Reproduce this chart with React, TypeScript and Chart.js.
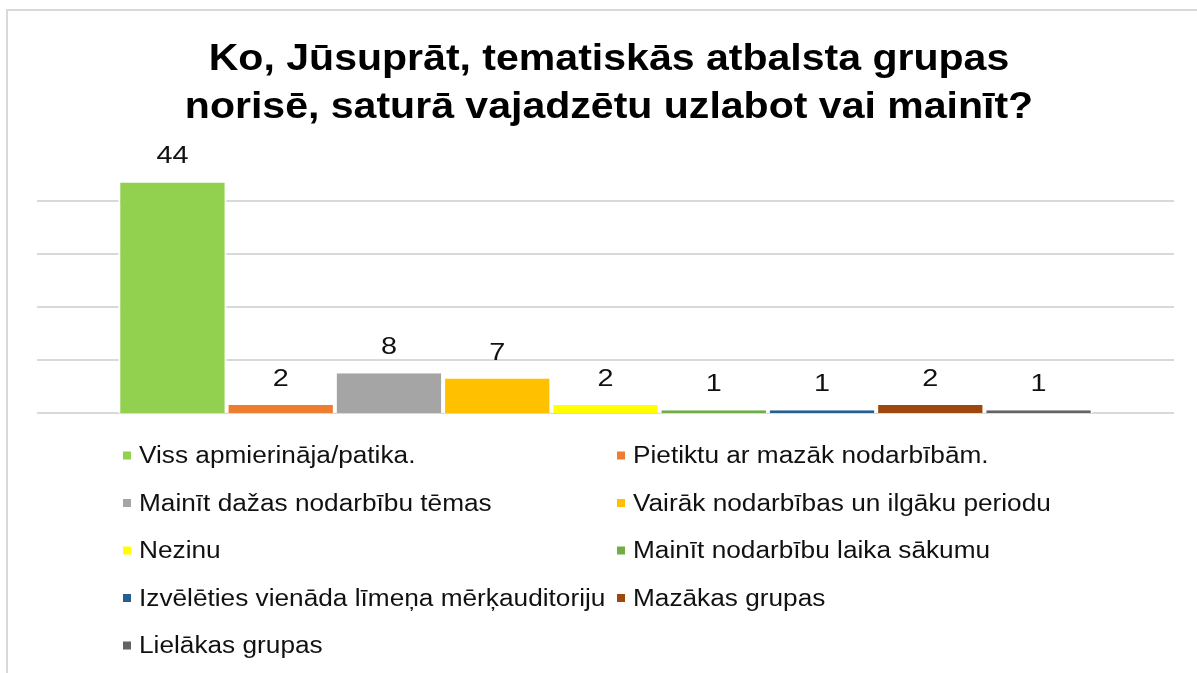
import React, { useEffect, useRef } from "react";
import { Chart, registerables } from "chart.js";

Chart.register(...registerables);

const TITLE_LINES = [
  "Ko, Jūsuprāt, tematiskās atbalsta grupas",
  "norisē, saturā vajadzētu uzlabot vai mainīt?",
];
const CATEGORIES = [
  "Viss apmierināja/patika.",
  "Pietiktu ar mazāk nodarbībām.",
  "Mainīt dažas nodarbību tēmas",
  "Vairāk nodarbības un ilgāku periodu",
  "Nezinu",
  "Mainīt nodarbību laika sākumu",
  "Izvēlēties vienāda līmeņa mērķauditoriju",
  "Mazākas grupas",
  "Lielākas grupas",
];
const VALUES = [44, 2, 8, 7, 2, 1, 1, 2, 1];
const COLORS = [
  "#92d050",
  "#ed7d31",
  "#a5a5a5",
  "#ffc000",
  "#ffff00",
  "#70ad47",
  "#255e91",
  "#9e480e",
  "#636363",
];
const GRID_VALUES = [0.5, 10.5, 20.5, 30.5, 40.5];
const Y_MIN = 0.5;
const Y_MAX = 50.5;

const FONT = '"Liberation Sans", Arial, sans-serif';

function stretchedText(ctx: CanvasRenderingContext2D, text: string, x: number, y: number, sx: number, align: CanvasTextAlign) {
  ctx.save();
  ctx.translate(x, y);
  ctx.scale(sx, 1);
  ctx.textAlign = align;
  ctx.textBaseline = "alphabetic";
  ctx.fillText(text, 0, 0);
  ctx.restore();
}

const overlayPlugin = {
  id: "overlay",
  afterDraw(chart: any) {
    const ctx: CanvasRenderingContext2D = chart.ctx;
    ctx.save();
    // title
    ctx.fillStyle = "#000000";
    ctx.font = `bold 36px ${FONT}`;
    const titleBase = [70, 118];
    TITLE_LINES.forEach((line, i) => {
      stretchedText(ctx, line, 609, titleBase[i], 1.14, "center");
    });
    // value labels
    ctx.fillStyle = "#111111";
    ctx.font = `24px ${FONT}`;
    chart.data.datasets.forEach((ds: any, i: number) => {
      const meta = chart.getDatasetMeta(i);
      const el = meta.data[0];
      if (!el) return;
      stretchedText(ctx, String(ds.data[0]), el.x, el.y - 19, 1.2, "center");
    });
    // legend
    ctx.font = `23px ${FONT}`;
    const colX = [123, 617];
    chart.data.datasets.forEach((ds: any, i: number) => {
      const col = i % 2;
      const row = Math.floor(i / 2);
      const base = 463 + row * 47.5;
      const mx = colX[col];
      ctx.fillStyle = COLORS[i];
      ctx.fillRect(mx, base - 11.5, 8, 8);
      ctx.fillStyle = "#111111";
      stretchedText(ctx, ds.label, mx + 16, base, 1.14, "left");
    });
    ctx.restore();
  },
};

export default function App() {
  const canvasRef = useRef<HTMLCanvasElement | null>(null);

  useEffect(() => {
    const canvas = canvasRef.current;
    if (!canvas) return;
    const chart = new Chart(canvas, {
      type: "bar",
      data: {
        labels: [""],
        datasets: CATEGORIES.map((name, i) => ({
          label: name,
          data: [VALUES[i]],
          backgroundColor: COLORS[i],
          borderColor: "#ffffff",
          borderWidth: { left: 2, right: 2, top: 0, bottom: 0 },
          borderSkipped: false,
          categoryPercentage: 0.857,
          barPercentage: 1,
        })),
      },
      options: {
        responsive: false,
        devicePixelRatio: 1,
        animation: false,
        layout: { padding: { left: 37, right: 23, top: 148, bottom: 260 } },
        plugins: {
          legend: { display: false },
          title: { display: false },
          tooltip: { enabled: false },
        },
        scales: {
          x: { display: false },
          y: {
            display: true,
            min: Y_MIN,
            max: Y_MAX,
            ticks: { display: false },
            border: { display: false },
            grid: { color: "#d9d9d9", lineWidth: 2, drawTicks: false },
            afterBuildTicks: (axis: any) => {
              axis.ticks = GRID_VALUES.map((v) => ({ value: v }));
            },
          },
        },
      },
      plugins: [overlayPlugin],
    } as any);
    return () => chart.destroy();
  }, []);

  return (
    <div
      style={{
        position: "fixed",
        left: 0,
        top: 0,
        width: 1197,
        height: 673,
        overflow: "hidden",
        background: "#ffffff",
      }}
    >
      <div
        style={{
          position: "absolute",
          left: 6,
          top: 9,
          width: 1400,
          height: 900,
          border: "2px solid #d9d9d9",
        }}
      />
      <canvas
        ref={canvasRef}
        width={1197}
        height={673}
        style={{ position: "absolute", left: 0, top: 0, width: 1197, height: 673 }}
      />
    </div>
  );
}
